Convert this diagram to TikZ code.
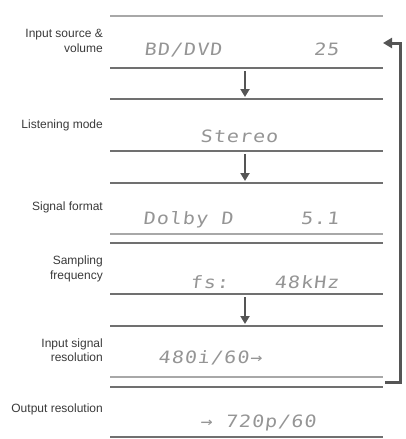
\documentclass[tikz,border=0pt]{standalone}
\usepackage{fontspec}
\setmainfont{Liberation Sans}
\newfontfamily\lcdfont[LetterSpace=6,FakeStretch=1.18,FakeSlant=0.12]{DejaVu Sans Mono}
\usetikzlibrary{arrows.meta}
\definecolor{lbl}{HTML}{3A3A3A}
\definecolor{lcdc}{HTML}{959595}
\definecolor{rulec}{HTML}{707070}
\definecolor{rulel}{HTML}{A8A8A8}
\definecolor{arrc}{HTML}{555555}
\begin{document}
\begin{tikzpicture}[x=1pt,y=-1pt,
  lab/.style={font=\fontsize{12}{14.5}\selectfont, text=lbl, align=right, anchor=east, inner sep=0pt},
  lcd/.style={font={\lcdfont\fontsize{17}{17}\selectfont}, text=lcdc, inner sep=0pt},
  rule/.style={draw=rulec, line width=1.1pt},
  lrule/.style={draw=rulel, line width=1.1pt},
  flow/.style={draw=arrc, line width=2.4pt, -{Triangle[width=9pt,length=8pt]}},
  loop/.style={draw=arrc, line width=3pt, line join=miter, -{Triangle[width=10pt,length=9pt]}}
]
\useasboundingbox (0,0) rectangle (406,439);

% rules
\draw[lrule] (110,16) -- (383,16);
\draw[rule] (110,68) -- (383,68);
\draw[rule] (110,99) -- (383,99);
\draw[rule] (110,151) -- (383,151);
\draw[rule] (110,183) -- (383,183);
\draw[lrule] (110,234) -- (383,234);
\draw[rule] (110,243) -- (383,243);
\draw[rule] (110,294) -- (383,294);
\draw[rule] (110,326) -- (383,326);
\draw[lrule] (110,377) -- (383,377);
\draw[rule] (110,387) -- (383,387);
\draw[rule] (110,437) -- (383,437);

% labels
\node[lab] (l1) at (103,41) {Input source \&\\volume};
\node[lab] (l2) at (103,125) {Listening mode};
\node[lab] (l3) at (103,207) {Signal format};
\node[lab] (l4) at (103,269) {Sampling\\frequency};
\node[lab] (l5) at (103,350) {Input signal\\resolution};
\node[lab] (l6) at (103,409) {Output resolution};

% display texts
\node[lcd, anchor=base west] (d1a) at (144,55) {BD/DVD};
\node[lcd, anchor=base east] (d1b) at (339,55) {25};
\node[lcd, anchor=base west] (d2) at (200,142) {Stereo};
\node[lcd, anchor=base west] (d3a) at (143,224) {Dolby D};
\node[lcd, anchor=base east] (d3b) at (339,224) {5.1};
\node[lcd, anchor=base west] (d4a) at (190,288) {fs:};
\node[lcd, anchor=base east] (d4b) at (339,288) {48kHz};
\node[lcd, anchor=base west] (d5) at (158,363) {480i/60→};
\node[lcd, anchor=base west] (d6) at (200,427) {→ 720p/60};

% down arrows
\coordinate (a1s) at (245,71);
\coordinate (a1e) at (245,97);
\coordinate (a2s) at (245,154);
\coordinate (a2e) at (245,181);
\coordinate (a3s) at (245,297);
\coordinate (a3e) at (245,324);
\draw[flow] (a1s) -- (a1e);
\draw[flow] (a2s) -- (a2e);
\draw[flow] (a3s) -- (a3e);

% loop back
\coordinate (bs) at (385,382);
\coordinate (bc) at (400,382);
\coordinate (be) at (383,43);
\draw[loop] (bs) -- (bc) |- (be);
\end{tikzpicture}
\end{document}
